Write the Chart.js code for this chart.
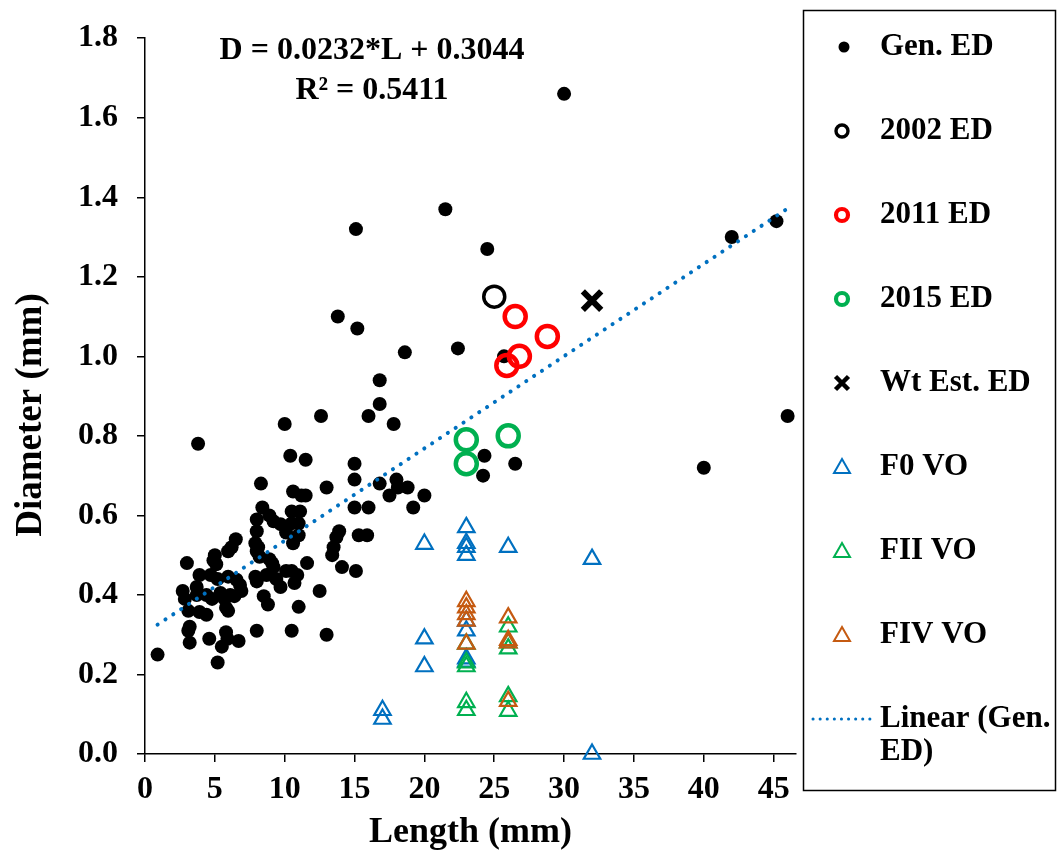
<!DOCTYPE html>
<html>
<head>
<meta charset="utf-8">
<script src="https://cdn.jsdelivr.net/npm/chart.js@4.4.1/dist/chart.umd.min.js"></script>
<style>
html, body { margin: 0; padding: 0; background: #fff; }
#wrap { width: 1063px; height: 854px; }
</style>
</head>
<body>
<div id="wrap"><canvas id="myChart" width="1063" height="854"></canvas></div>
<script>
// Gen. ED measurements (length mm / diameter mm)
var genEdLength = [0.9, 3.8, 10.0, 12.6, 13.8, 15.1, 15.2, 16.0, 16.8, 16.8, 17.8, 18.6, 21.5, 22.4, 24.5, 25.7, 30.0, 42.0, 45.2, 46.0,
    40.0, 24.3, 24.2, 26.5, 10.4, 11.5, 15.0, 15.0, 16.8, 18.0, 18.1, 18.8, 17.5, 20.0, 19.2, 15.0, 16.0, 13.0, 8.3, 8.4,
    10.6, 11.2, 11.5, 10.5, 11.1, 8.0, 8.9, 9.2, 9.7, 10.5, 11.0, 8.0, 10.1, 11.0, 10.6, 13.9, 13.7, 13.5, 13.4, 15.3,
    15.9, 14.1, 15.1, 11.6, 12.5, 11.0, 10.5, 13.0, 6.5, 6.2, 5.95, 5.0, 4.9, 5.1, 3.0, 7.9, 8.1, 8.0, 8.2, 8.9,
    9.1, 9.2, 3.9, 4.7, 7.9, 8.0, 8.7, 9.4, 9.7, 10.1, 10.5, 10.9, 10.7, 2.7, 2.85, 3.7, 3.7, 5.2, 5.95, 6.55,
    6.8, 6.9, 4.4, 4.8, 5.4, 5.7, 6.1, 6.4, 3.1, 3.9, 4.4, 5.8, 5.95, 8.5, 8.8, 3.2, 3.1, 3.2, 4.6, 5.8,
    5.9, 5.5, 6.7, 5.2, 8.0];
var genEdDiameter = [0.25, 0.78, 0.83, 0.85, 1.10, 1.32, 1.07, 0.85, 0.94, 0.88, 0.83, 1.01, 1.37, 1.02, 1.27, 1.00, 1.66, 1.30, 1.34, 0.85,
    0.72, 0.75, 0.70, 0.73, 0.75, 0.74, 0.73, 0.69, 0.68, 0.69, 0.67, 0.67, 0.65, 0.65, 0.62, 0.62, 0.62, 0.67, 0.68, 0.62,
    0.66, 0.65, 0.65, 0.61, 0.61, 0.59, 0.60, 0.585, 0.578, 0.58, 0.58, 0.56, 0.557, 0.55, 0.53, 0.56, 0.545, 0.52, 0.50, 0.55,
    0.55, 0.47, 0.46, 0.48, 0.41, 0.37, 0.31, 0.30, 0.54, 0.52, 0.51, 0.50, 0.487, 0.477, 0.48, 0.53, 0.52, 0.51, 0.496, 0.49,
    0.48, 0.47, 0.45, 0.45, 0.446, 0.434, 0.45, 0.44, 0.42, 0.46, 0.46, 0.45, 0.43, 0.41, 0.39, 0.42, 0.40, 0.44, 0.446, 0.438,
    0.425, 0.41, 0.40, 0.39, 0.405, 0.39, 0.40, 0.397, 0.36, 0.357, 0.35, 0.368, 0.36, 0.397, 0.376, 0.32, 0.31, 0.28, 0.29, 0.306,
    0.29, 0.27, 0.284, 0.23, 0.31];

var ed2002Length = [25.0];
var ed2002Diameter = [1.15];
var ed2011Length = [26.5, 28.8, 26.8, 25.9];
var ed2011Diameter = [1.10, 1.05, 1.00, 0.977];
var ed2015Length = [23.0, 26.0, 23.0];
var ed2015Diameter = [0.79, 0.80, 0.73];
var wtEstLength = [32.0];
var wtEstDiameter = [1.14];

var f0Length = [23, 23, 23, 23, 23, 23, 23, 23, 20, 20, 20, 26, 17, 17, 32, 32];
var f0Diameter = [0.57, 0.53, 0.52, 0.50, 0.335, 0.31, 0.24, 0.232, 0.528, 0.29, 0.22, 0.52, 0.11, 0.088, 0.49, 0.0];
var fiiLength = [23, 23, 23, 23, 23, 26, 26, 26, 26, 26];
var fiiDiameter = [0.277, 0.23, 0.22, 0.13, 0.11, 0.32, 0.28, 0.265, 0.145, 0.108];
var fivLength = [23, 23, 23, 23, 23, 26, 26, 26, 26];
var fivDiameter = [0.384, 0.368, 0.351, 0.335, 0.277, 0.343, 0.286, 0.28, 0.133];

// trendline from the printed equation
var trendSlope = 0.0232;
var trendIntercept = 0.3044;
var eqText = ['D = 0.0232*L + 0.3044', 'R\u00B2 = 0.5411'];

var xTicks = [0, 5, 10, 15, 20, 25, 30, 35, 40, 45];
var yTicks = [0, 0.2, 0.4, 0.6, 0.8, 1.0, 1.2, 1.4, 1.6, 1.8];

var FONT = '"Liberation Serif", "Times New Roman", serif';

function toPoints(xs, ys) {
    return xs.map(function(x, i) { return {x: x, y: ys[i]}; });
}

var trendStart = Math.min.apply(null, genEdLength);
var trendEnd = Math.max.apply(null, genEdLength);

var legendRows = [
    {label: 'Gen. ED', style: 'dot', color: '#000'},
    {label: '2002 ED', style: 'ring', color: '#000', lw: 3.4},
    {label: '2011 ED', style: 'ring', color: '#FF0000', lw: 4.2},
    {label: '2015 ED', style: 'ring', color: '#00B050', lw: 4.2},
    {label: 'Wt Est. ED', style: 'cross', color: '#000'},
    {label: 'F0 VO', style: 'triangle', color: '#0070C0'},
    {label: 'FII VO', style: 'triangle', color: '#00B050'},
    {label: 'FIV VO', style: 'triangle', color: '#C55A11'},
    {label: ['Linear (Gen.', 'ED)'], style: 'dots', color: '#0070C0'}
];

var extras = {
    id: 'extras',
    afterDraw: function(chart) {
        var ctx = chart.ctx;
        ctx.save();
        ctx.fillStyle = '#000';
        ctx.textBaseline = 'middle';
        ctx.textAlign = 'center';
        ctx.font = 'bold 32px ' + FONT;
        ctx.fillText(eqText[0], 372, 51);
        ctx.fillText(eqText[1], 372, 91);

        // y axis title
        ctx.save();
        ctx.translate(31, 415);
        ctx.rotate(-Math.PI / 2);
        ctx.font = 'bold 37px ' + FONT;
        ctx.fillText('Diameter (mm)', 0, 0);
        ctx.restore();

        // legend box
        ctx.strokeStyle = '#000';
        ctx.lineWidth = 1.5;
        ctx.strokeRect(803.5, 10.5, 252, 780);

        ctx.textAlign = 'left';
        ctx.font = 'bold 31px ' + FONT;
        legendRows.forEach(function(row, i) {
            var y = 47 + i * 84;
            var mx = 842;
            ctx.save();
            ctx.strokeStyle = row.color;
            ctx.fillStyle = row.color;
            ctx.beginPath();
            if (row.style === 'dot') {
                ctx.arc(mx + 2, y, 5.5, 0, Math.PI * 2);
                ctx.fill();
            } else if (row.style === 'ring') {
                ctx.lineWidth = row.lw;
                ctx.arc(mx, y, 6, 0, Math.PI * 2);
                ctx.stroke();
            } else if (row.style === 'cross') {
                ctx.lineWidth = 4.5;
                ctx.moveTo(mx - 6.5, y - 6.5); ctx.lineTo(mx + 6.5, y + 6.5);
                ctx.moveTo(mx + 6.5, y - 6.5); ctx.lineTo(mx - 6.5, y + 6.5);
                ctx.stroke();
            } else if (row.style === 'triangle') {
                ctx.lineWidth = 2;
                ctx.moveTo(mx, y - 8);
                ctx.lineTo(mx + 8, y + 6);
                ctx.lineTo(mx - 8, y + 6);
                ctx.closePath();
                ctx.stroke();
            } else if (row.style === 'dots') {
                ctx.lineWidth = 3;
                ctx.lineCap = 'round';
                ctx.setLineDash([0.1, 7]);
                ctx.moveTo(813, y);
                ctx.lineTo(870, y);
                ctx.stroke();
            }
            ctx.restore();
            var lines = Array.isArray(row.label) ? row.label : [row.label];
            lines.forEach(function(t, j) {
                ctx.fillText(t, 880, y + j * 33);
            });
        });
        ctx.restore();
    }
};

var ctx = document.getElementById('myChart').getContext('2d');
var myChart = new Chart(ctx, {
    type: 'scatter',
    data: {
        datasets: [{
            label: 'Gen. ED',
            data: toPoints(genEdLength, genEdDiameter),
            pointStyle: 'circle',
            pointRadius: 7,
            pointBackgroundColor: '#000',
            pointBorderWidth: 0,
            order: 10
        }, {
            label: '2002 ED',
            data: toPoints(ed2002Length, ed2002Diameter),
            pointStyle: 'circle',
            pointRadius: 10.5,
            pointBackgroundColor: 'rgba(0,0,0,0)',
            pointBorderColor: '#000',
            pointBorderWidth: 3.5,
            order: 2
        }, {
            label: '2011 ED',
            data: toPoints(ed2011Length, ed2011Diameter),
            pointStyle: 'circle',
            pointRadius: 10.5,
            pointBackgroundColor: 'rgba(0,0,0,0)',
            pointBorderColor: '#FF0000',
            pointBorderWidth: 4.5,
            order: 3
        }, {
            label: '2015 ED',
            data: toPoints(ed2015Length, ed2015Diameter),
            pointStyle: 'circle',
            pointRadius: 10.5,
            pointBackgroundColor: 'rgba(0,0,0,0)',
            pointBorderColor: '#00B050',
            pointBorderWidth: 4.5,
            order: 4
        }, {
            label: 'Wt Est. ED',
            data: toPoints(wtEstLength, wtEstDiameter),
            pointStyle: 'crossRot',
            pointRadius: 13,
            pointBorderColor: '#000',
            pointBorderWidth: 6,
            order: 1
        }, {
            label: 'F0 VO',
            data: toPoints(f0Length, f0Diameter),
            pointStyle: 'triangle',
            pointRadius: 9.5,
            pointBackgroundColor: 'rgba(0,0,0,0)',
            pointBorderColor: '#0070C0',
            pointBorderWidth: 2.2,
            order: 8
        }, {
            label: 'FII VO',
            data: toPoints(fiiLength, fiiDiameter),
            pointStyle: 'triangle',
            pointRadius: 9.5,
            pointBackgroundColor: 'rgba(0,0,0,0)',
            pointBorderColor: '#00B050',
            pointBorderWidth: 2.2,
            order: 7
        }, {
            label: 'FIV VO',
            data: toPoints(fivLength, fivDiameter),
            pointStyle: 'triangle',
            pointRadius: 9.5,
            pointBackgroundColor: 'rgba(0,0,0,0)',
            pointBorderColor: '#C55A11',
            pointBorderWidth: 2.2,
            order: 6
        }, {
            label: 'Linear (Gen. ED)',
            data: [
                {x: trendStart, y: trendSlope * trendStart + trendIntercept},
                {x: trendEnd, y: trendSlope * trendEnd + trendIntercept}
            ],
            showLine: true,
            pointRadius: 0,
            borderColor: '#0070C0',
            borderWidth: 4,
            borderDash: [0.1, 9.3],
            borderCapStyle: 'round',
            order: 9
        }]
    },
    options: {
        responsive: false,
        animation: false,
        clip: false,
        layout: {padding: {left: 0, right: 267, top: 25, bottom: 0}},
        plugins: {
            legend: {display: false},
            tooltip: {enabled: false}
        },
        scales: {
            x: {
                type: 'linear',
                min: 0,
                max: 46.6,
                afterBuildTicks: function(scale) {
                    scale.ticks = xTicks.map(function(v) { return {value: v}; });
                },
                afterFit: function(scale) { scale.height = 100; },
                ticks: {
                    color: '#000',
                    font: {family: FONT, size: 32, weight: 'bold'},
                    padding: 9,
                    maxRotation: 0
                },
                grid: {drawOnChartArea: false, drawTicks: true, tickLength: 8, color: '#000', lineWidth: 1.5},
                border: {display: true, color: '#000', width: 1.5},
                title: {
                    display: true,
                    text: 'Length (mm)',
                    color: '#000',
                    font: {family: FONT, size: 36, weight: 'bold'},
                    padding: {top: 0, bottom: 0}
                }
            },
            y: {
                type: 'linear',
                min: 0,
                max: 1.8,
                afterBuildTicks: function(scale) {
                    scale.ticks = yTicks.map(function(v) { return {value: v}; });
                },
                afterFit: function(scale) { scale.width = 145; },
                ticks: {
                    color: '#000',
                    font: {family: FONT, size: 32, weight: 'bold'},
                    padding: 19,
                    callback: function(v) { return Number(v).toFixed(1); }
                },
                grid: {drawOnChartArea: false, drawTicks: true, tickLength: 8, color: '#000', lineWidth: 1.5},
                border: {display: true, color: '#000', width: 1.5},
                title: {display: false}
            }
        }
    },
    plugins: [extras]
});
</script>
</body>
</html>
